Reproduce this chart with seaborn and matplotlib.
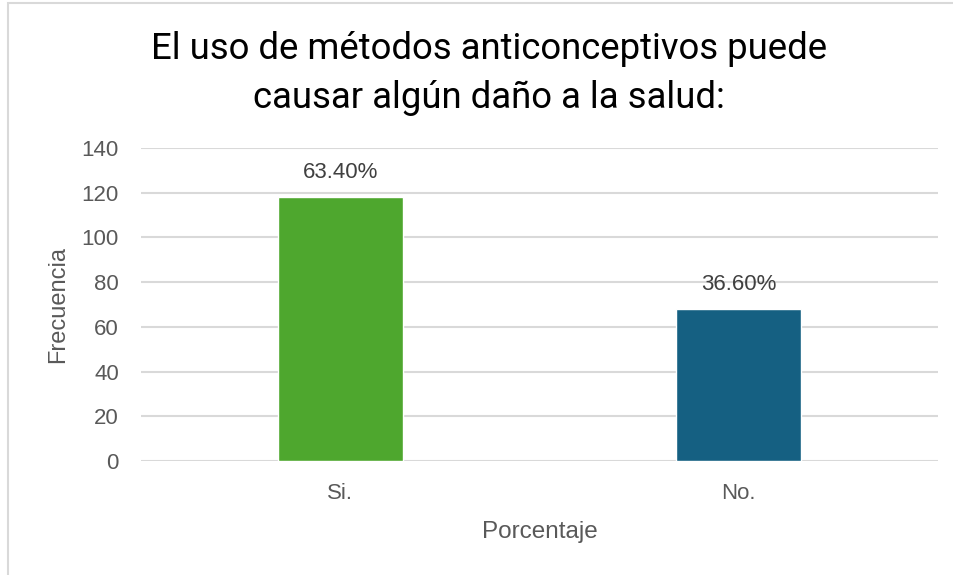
import matplotlib
matplotlib.use("Agg")
import matplotlib.pyplot as plt
import pandas as pd
import seaborn as sns
from matplotlib.patches import Rectangle

categories = ["Si.", "No."]
frecuencia = [118, 68]
porcentajes = ["63.40%", "36.60%"]
colores = ["#4ea72e", "#156082"]
yticks = [0, 20, 40, 60, 80, 100, 120, 140]

df = pd.DataFrame({"respuesta": categories, "frecuencia": frecuencia})

sns.set_style("white")
plt.rcParams["font.family"] = ["Liberation Sans", "DejaVu Sans"]

fig = plt.figure(figsize=(9.54, 5.75), dpi=100)
ax = fig.add_axes([0.1478, 0.1983, 0.8354, 0.5443])

sns.barplot(data=df, x="respuesta", y="frecuencia", hue="respuesta",
            palette=colores, width=0.314, saturation=1, legend=False, ax=ax, zorder=3)

# etiquetas de porcentaje sobre las barras
for bar, txt in zip(ax.patches, porcentajes):
    ax.annotate(txt, (bar.get_x() + bar.get_width() / 2, bar.get_height()),
                xytext=(0, 10), textcoords="offset points",
                ha="center", va="bottom", fontsize=16, color="#404040")

ax.set_ylim(0, 140)
ax.set_xlim(-0.5, 1.5)
ax.set_yticks(yticks)
ax.yaxis.grid(True, color="#d9d9d9", linewidth=1.5, zorder=0)
ax.xaxis.grid(False)
for s in ax.spines.values():
    s.set_visible(False)
ax.tick_params(axis="both", length=0, labelsize=16, labelcolor="#595959")
ax.tick_params(axis="y", pad=16)
ax.tick_params(axis="x", pad=16)
ax.set_xlabel("Porcentaje", fontsize=17.5, color="#595959", labelpad=12)
ax.set_ylabel("Frecuencia", fontsize=17, color="#595959", labelpad=9)

fig.text(0.513, 0.872, "El uso de métodos anticonceptivos puede\ncausar algún daño a la salud:",
         ha="center", va="center", fontsize=26.3, color="#000000",
         family=["Roboto", "DejaVu Sans"], linespacing=1.45)

# borde del área del gráfico
fig.patches.append(Rectangle((8 / 954, -0.01), 1.0, 1 - 3 / 575 + 0.01,
                             transform=fig.transFigure, fill=False,
                             edgecolor="#d9d9d9", linewidth=1.5))

fig.savefig("out.png", dpi=100)
